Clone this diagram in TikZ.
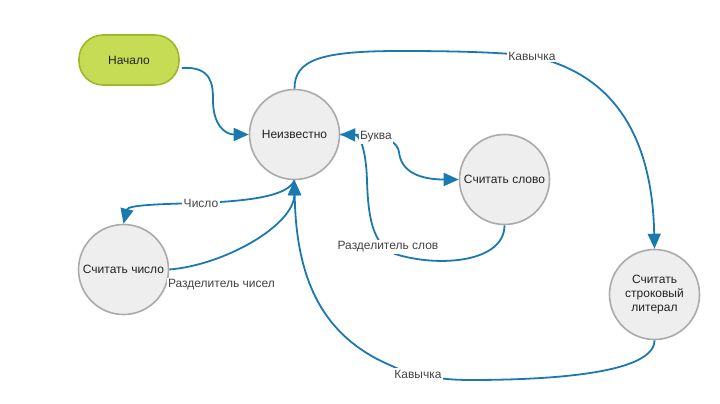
\documentclass[tikz,border=0pt]{standalone}
\usepackage{fontspec}
\setmainfont{Liberation Sans}
\usetikzlibrary{arrows.meta}
\definecolor{edgeblue}{RGB}{26,122,176}
\definecolor{stategray}{RGB}{170,170,170}
\definecolor{statefill}{RGB}{238,238,238}
\definecolor{startfill}{RGB}{198,220,85}
\definecolor{startline}{RGB}{156,186,42}
\definecolor{txt}{RGB}{34,34,34}
\begin{document}
\begin{tikzpicture}[x=1pt,y=-1pt,
  every node/.style={font=\fontsize{12pt}{14pt}\selectfont, text=txt},
  state/.style={circle, draw=stategray, fill=statefill, line width=1.6pt, minimum size=90pt, inner sep=0pt, align=center},
  startbox/.style={rectangle, rounded corners=24pt, draw=startline, fill=startfill, line width=1.6pt, minimum width=100pt, minimum height=50pt},
  edge/.style={draw=edgeblue, line width=1.8pt, -{Triangle[length=15pt,width=13pt]}},
  lbl/.style={fill=white, inner sep=1.5pt, text=txt!85!white}
]
\useasboundingbox (0,0) rectangle (720,404);

\node[startbox] (start) at (129,60) {Начало};
\node[state] (unk) at (294.5,134.5) {Неизвестно};
\node[state] (word) at (504.5,179.5) {Считать слово};
\node[state] (num) at (123.5,269.5) {Считать число};
\node[state] (str) at (654.5,294.5) {Считать\\строковый\\литерал};

% Начало -> Неизвестно
\draw[edge] ([xshift=2pt,yshift=-8pt]start.east) .. controls (212,66) and (213,85) .. (213,100)
  .. controls (213,125) and (225,134.5) .. (unk.west);

% Неизвестно -> строковый литерал (Кавычка)
\draw[edge] (unk.north) .. controls (294.5,60) and (320,51) .. (400,51)
  .. controls (450,51) and (500,52) .. (530,56)
  .. controls (600,70) and (652,120) .. (str.north);
\node[lbl] (lq1) at (532,56) {Кавычка};

% Считать слово -> Неизвестно (Разделитель слов)
\draw[edge] (word.south) .. controls (504.5,262) and (440,268) .. (395,254)
  .. controls (372,245) and (368,215) .. (367,180)
  .. controls (366,150) and (360,135) .. (unk.east);
\node[lbl] (lws) at (388,247) {Разделитель слов};

% Неизвестно -> Считать слово (Буква)
\draw[edge] (unk.east) .. controls (360,135) and (396,133) .. (399,152)
  .. controls (401,172) and (420,179.5) .. (word.west);
\node[lbl] (lb) at (376,137) {Буква};

% Неизвестно -> Считать число (Число)
\draw[edge] (unk.south) .. controls (288,196) and (250,201) .. (200,203)
  .. controls (160,204) and (128,205) .. (num.north);
\node[lbl] (lnum) at (201,203) {Число};

% Считать число -> Неизвестно (Разделитель чисел)
\draw[edge] (num.east) .. controls (225,265) and (294,225) .. (unk.south);
\node[lbl] (lns) at (221.5,285) {Разделитель чисел};

% строковый литерал -> Неизвестно (Кавычка)
\draw[edge] (str.south) .. controls (654.5,372) and (560,380) .. (470,380)
  .. controls (440,380) and (410,375) .. (392,366)
  .. controls (330,340) and (296,290) .. (unk.south);
\node[lbl] (lq2) at (418,374) {Кавычка};
\end{tikzpicture}
\end{document}
